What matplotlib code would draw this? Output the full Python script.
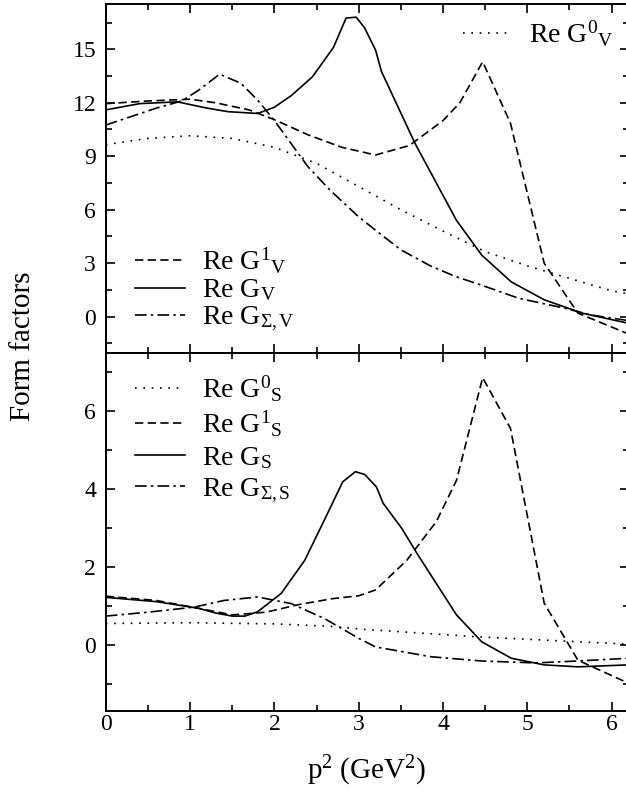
import numpy as np
import matplotlib
matplotlib.use('Agg')
from matplotlib import pyplot as plt
from matplotlib.ticker import MultipleLocator

plt.rcParams['font.family'] = ['Liberation Serif', 'DejaVu Serif']
plt.rcParams['mathtext.fontset'] = 'custom'
plt.rcParams['mathtext.rm'] = 'Liberation Serif'
plt.rcParams['mathtext.it'] = 'Liberation Serif:italic'

# ---- top panel: vector form factors ----
x_g0v = [0.0, 0.5, 1.0, 1.5, 2.0, 2.5, 3.0, 3.5, 4.0, 4.5, 5.0, 5.5, 6.0, 6.2]
g0v = [9.65, 10.0, 10.15, 10.0, 9.5, 8.6, 7.3, 6.0, 4.8, 3.65, 2.85, 2.15, 1.45, 1.28]

x_g1v = [0.0, 0.5, 1.0, 1.3, 1.7, 2.0, 2.4, 2.8, 3.2, 3.6, 4.0, 4.2, 4.47, 4.8, 5.2, 5.6, 6.2]
g1v = [11.95, 12.1, 12.2, 12.0, 11.6, 11.05, 10.2, 9.5, 9.07, 9.6, 11.0, 12.0, 14.3, 10.85, 3.0, 0.2, -0.97]

x_gv = [0.0, 0.4, 0.85, 1.2, 1.45, 1.8, 2.0, 2.2, 2.45, 2.7, 2.85, 2.97, 3.07, 3.2, 3.27,
        3.67, 4.16, 4.46, 4.81, 5.2, 5.65, 6.2]
gv = [11.6, 11.95, 12.05, 11.7, 11.5, 11.4, 11.75, 12.4, 13.45, 15.1, 16.75, 16.8, 16.2, 14.95, 13.75,
      9.7, 5.4, 3.45, 1.95, 0.95, 0.2, -0.37]

x_gsv = [0.0, 0.6, 0.9, 1.1, 1.35, 1.6, 1.8, 2.0, 2.4, 2.66, 3.0, 3.2, 3.5, 3.85, 4.15, 4.45,
         4.9, 5.45, 5.75, 6.2]
gsv = [10.75, 11.7, 12.1, 12.7, 13.6, 13.1, 12.15, 11.0, 8.4, 7.1, 5.6, 4.85, 3.75, 2.85, 2.25, 1.78,
       1.03, 0.47, 0.1, -0.22]

# ---- bottom panel: scalar form factors ----
x_g0s = [0.0, 1.0, 2.0, 2.66, 3.0, 4.4, 6.2]
g0s = [0.56, 0.58, 0.55, 0.49, 0.42, 0.22, 0.03]

x_g1s = [0.0, 0.6, 1.1, 1.5, 1.9, 2.3, 2.7, 3.0, 3.2, 3.57, 3.92, 4.16, 4.47, 4.8, 5.2, 5.6, 6.2]
g1s = [1.26, 1.15, 0.95, 0.78, 0.85, 1.05, 1.2, 1.27, 1.42, 2.18, 3.17, 4.23, 6.86, 5.56, 1.08, -0.38, -0.97]

x_gs = [0.0, 0.6, 1.1, 1.3, 1.5, 1.65, 1.8, 2.08, 2.36, 2.63, 2.81, 2.96, 3.07, 3.21, 3.29,
        3.51, 3.69, 4.16, 4.46, 4.81, 5.2, 5.6, 6.2]
gs = [1.23, 1.12, 0.95, 0.83, 0.75, 0.75, 0.86, 1.33, 2.18, 3.38, 4.19, 4.45, 4.38, 4.06, 3.64,
      3.0, 2.36, 0.78, 0.09, -0.33, -0.5, -0.55, -0.5]

x_gss = [0.0, 0.5, 1.05, 1.4, 1.8, 2.2, 2.6, 3.0, 3.2, 3.85, 4.45, 5.1, 5.6, 6.2]
gss = [0.75, 0.85, 0.98, 1.15, 1.24, 1.07, 0.68, 0.18, -0.04, -0.29, -0.4, -0.45, -0.4, -0.33]

dotted = (0, (1, 4))
dashed = (0, (5, 2.6))
dashdot = (0, (7, 2.5, 1.5, 2.5))
lw = 1.2

fig = plt.figure(figsize=(6.26, 7.97), dpi=100)
ax1 = fig.add_axes([0.169, 0.557, 0.835, 0.438])
ax2 = fig.add_axes([0.169, 0.108, 0.835, 0.449])

l0, = ax1.plot(x_g0v, g0v, color='black', lw=lw, ls=dotted)
l1, = ax1.plot(x_g1v, g1v, color='black', lw=lw, ls=dashed)
l2, = ax1.plot(x_gv, gv, color='black', lw=lw, ls='-')
l3, = ax1.plot(x_gsv, gsv, color='black', lw=lw, ls=dashdot)

m0, = ax2.plot(x_g0s, g0s, color='black', lw=lw, ls=dotted)
m1, = ax2.plot(x_g1s, g1s, color='black', lw=lw, ls=dashed)
m2, = ax2.plot(x_gs, gs, color='black', lw=lw, ls='-')
m3, = ax2.plot(x_gss, gss, color='black', lw=lw, ls=dashdot)

for ax in (ax1, ax2):
    ax.set_xlim(0, 6.2)
    ax.xaxis.set_major_locator(MultipleLocator(1))
    ax.xaxis.set_minor_locator(MultipleLocator(0.5))
    ax.tick_params(which='both', direction='in', top=True, right=True, labelsize=17, width=1.2)
    ax.tick_params(which='major', length=6.5, pad=7)
    ax.tick_params(which='minor', length=4)
    for s in ax.spines.values():
        s.set_linewidth(1.4)

ax1.set_ylim(-2.04, 17.54)
ax1.yaxis.set_major_locator(MultipleLocator(3))
ax1.yaxis.set_minor_locator(MultipleLocator(1.5))
ax1.tick_params(labelbottom=False)

ax2.set_ylim(-1.68, 7.49)
ax2.yaxis.set_major_locator(MultipleLocator(2))
ax2.yaxis.set_minor_locator(MultipleLocator(1))
ax2.tick_params(axis='x', which='major', pad=2)

leg_kw = dict(frameon=False, fontsize=20, handlelength=1.8, handletextpad=0.6, borderaxespad=0)
lg = ax1.legend([l0], [r'Re G$^{0}{}_{\mathrm{V}}$'], loc='upper right',
                bbox_to_anchor=(0.993, 0.99), **leg_kw)
ax1.add_artist(lg)
ax1.legend([l1, l2, l3], [r'Re G$^{1}{}_{\mathrm{V}}$', r'Re G$_{\mathrm{V}}$', r'Re G$_{\Sigma,\mathrm{V}}$'],
           loc='lower left', bbox_to_anchor=(0.035, 0.025), labelspacing=0.05, **leg_kw)
ax2.legend([m0, m1, m2, m3], [r'Re G$^{0}{}_{\mathrm{S}}$', r'Re G$^{1}{}_{\mathrm{S}}$',
                              r'Re G$_{\mathrm{S}}$', r'Re G$_{\Sigma,\mathrm{S}}$'],
           loc='upper left', bbox_to_anchor=(0.035, 0.975), labelspacing=0.2, **leg_kw)

fig.text(0.037, 0.565, 'Form factors', rotation=90, fontsize=21, ha='center', va='center')
fig.text(0.586, 0.033, r'p$^{2}$ (GeV$^{2}$)', fontsize=21, ha='center', va='center')

fig.savefig('out.png', dpi=100)
